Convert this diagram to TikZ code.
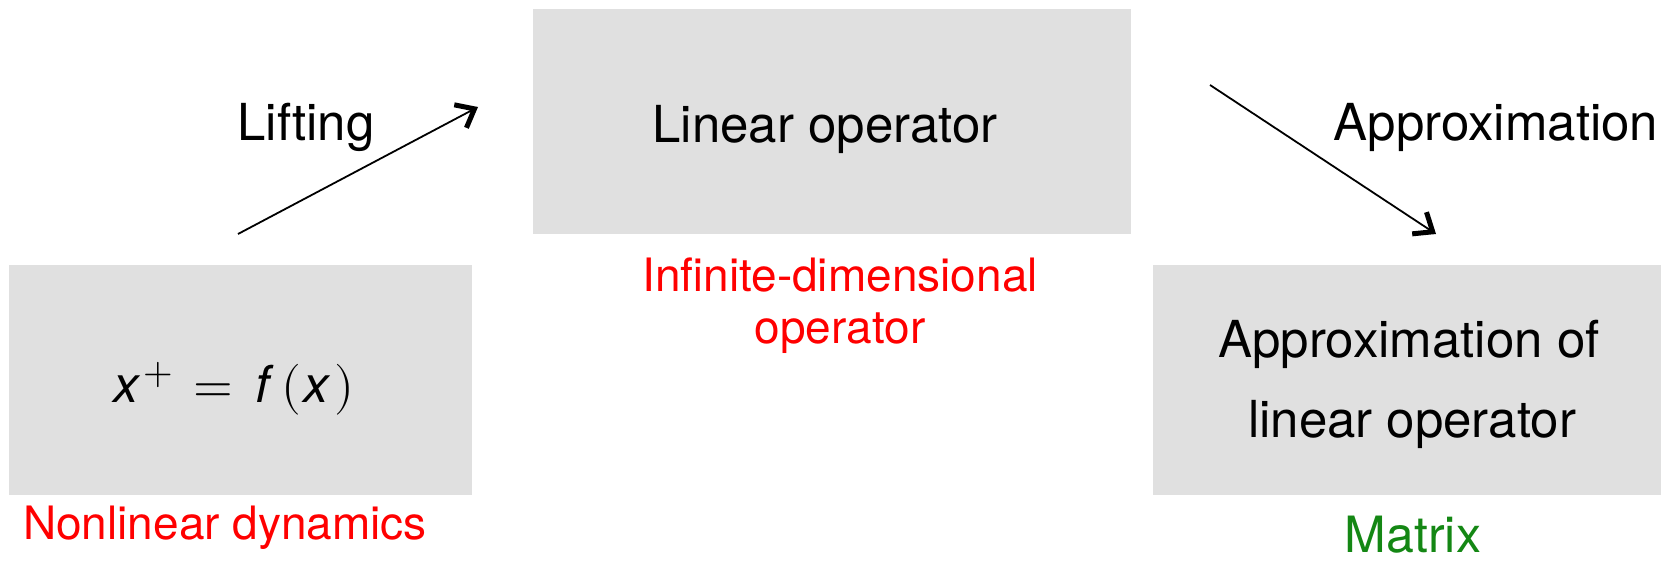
\documentclass[tikz,border=0pt]{standalone}
\usepackage{fontspec}
\usepackage{unicode-math}
\setmainfont{TeX Gyre Heros}
\setmathfont{Latin Modern Math}
\usetikzlibrary{arrows.meta}
\definecolor{boxgray}{RGB}{224,224,224}
\definecolor{labred}{RGB}{255,0,0}
\definecolor{labgreen}{RGB}{20,135,20}
\begin{document}
\begin{tikzpicture}[x=1pt,y=-1pt,
  panel/.style={fill=boxgray, draw=none, inner sep=0pt, anchor=north west},
  maintext/.style={anchor=base, inner sep=0pt, font=\fontsize{51}{60}\selectfont},
  tagtext/.style={anchor=base, inner sep=0pt, font=\fontsize{46}{54}\selectfont},
  conn/.style={line width=1.8pt, -{Straight Barb[length=16pt, width=26pt, line width=5pt]}}]
\useasboundingbox (0,0) rectangle (1678,561);

% grey panels
\node[panel, minimum width=463.4pt, minimum height=230pt] (dyn) at (8.6,265) {};
\node[panel, minimum width=598pt, minimum height=225.4pt] (lin) at (533,8.6) {};
\node[panel, minimum width=508pt, minimum height=230pt] (mat) at (1153,265) {};

% texts inside the panels
\node[maintext] (eq) at (234,402)
  {\textit{x}\kern3pt\raisebox{18pt}{\fontsize{38}{40}\selectfont$+$}\kern20pt$=$\kern22pt\textit{f}\kern8pt$($\kern2pt\textit{x}\kern4pt$)$};
\node[maintext] (lintxt) at (825,143) {Linear operator};
\node[maintext] (apx1) at (1409,357) {Approximation of};
\node[maintext] (apx2) at (1412,437) {linear operator};

% captions under the panels
\node[tagtext, text=labred] (capdyn) at (225,539) {Nonlinear dynamics};
\node[tagtext, text=labred] (caplin1) at (840,291) {Infinite-dimensional};
\node[tagtext, text=labred] (caplin2) at (840,343) {operator};
\node[tagtext, text=labgreen, font=\fontsize{50}{58}\selectfont] (capmat) at (1413,552) {Matrix};

% arrow labels
\node[maintext] (lift) at (306,141) {Lifting};
\node[maintext] (apx) at (1496,141) {Approximation};

% arrows
\coordinate (liftS) at (238,234);
\coordinate (liftE) at (478,107);
\coordinate (apxS) at (1210,85);
\coordinate (apxE) at (1436,234);
\draw[conn] (liftS) -- (liftE);
\draw[conn] (apxS) -- (apxE);
\end{tikzpicture}
\end{document}
